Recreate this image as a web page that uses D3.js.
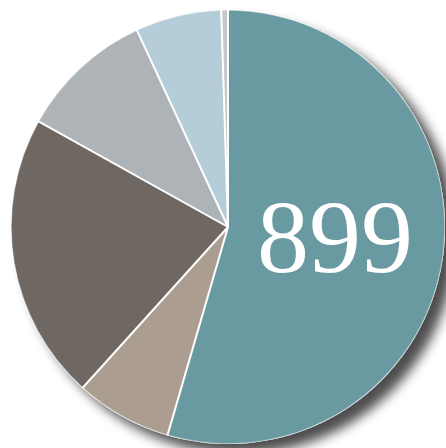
<!DOCTYPE html>
<html>
<head>
<meta charset="utf-8">
<script src="https://cdn.jsdelivr.net/npm/d3@7"></script>
<style>
  html, body { margin: 0; padding: 0; background: #fff; }
  svg { display: block; }
</style>
</head>
<body>
<div id="chart"></div>
<script>
// slice data, clockwise from 12 o'clock
var CATEGORIES = ['A', 'B', 'C', 'D', 'E', 'F'];
var VALUES = [54.5, 7.2, 21.4, 10.0, 6.4, 0.5];
var COLORS = ['#699aa2', '#ab9e90', '#6e6762', '#adb3b6', '#b4cdd9', '#c3c8ca'];
var LABEL = '899';

var WIDTH = 446, HEIGHT = 448;
var CX = 228, CY = 227, R = 217;

var svg = d3.select('#chart').append('svg')
  .attr('width', WIDTH)
  .attr('height', HEIGHT);

// drop shadow behind the pie
var defs = svg.append('defs');
var filter = defs.append('filter')
  .attr('id', 'shadow')
  .attr('x', '-20%').attr('y', '-20%')
  .attr('width', '140%').attr('height', '140%');
filter.append('feGaussianBlur')
  .attr('in', 'SourceAlpha')
  .attr('stdDeviation', 6);
filter.append('feOffset').attr('dx', 11).attr('dy', 10).attr('result', 'off');
filter.append('feComponentTransfer').append('feFuncA')
  .attr('type', 'linear').attr('slope', 0.7);
var merge = filter.append('feMerge');
merge.append('feMergeNode');
merge.append('feMergeNode').attr('in', 'SourceGraphic');

var g = svg.append('g').attr('transform', 'translate(' + CX + ',' + CY + ')');

g.append('circle')
  .attr('r', R)
  .attr('fill', '#eef0f0')
  .attr('filter', 'url(#shadow)');

var pie = d3.pie().sort(null).value(function(d) { return d; });
var arcs = pie(VALUES);
var arc = d3.arc().innerRadius(0).outerRadius(R - 0.8);
var color = d3.scaleOrdinal().domain(CATEGORIES).range(COLORS);

g.selectAll('path.slice')
  .data(arcs)
  .enter().append('path')
  .classed('slice', true)
  .attr('d', arc)
  .attr('fill', function(d, i) { return color(CATEGORIES[i]); })
  .attr('stroke', function(d, i) { return color(CATEGORIES[i]); })
  .attr('stroke-width', 0.5);

// white separators between slices
g.selectAll('line.sep')
  .data(arcs)
  .enter().append('line')
  .classed('sep', true)
  .attr('x1', 0).attr('y1', 0)
  .attr('x2', function(d) { return R * Math.sin(d.startAngle); })
  .attr('y2', function(d) { return -R * Math.cos(d.startAngle); })
  .attr('stroke', '#fff')
  .attr('stroke-width', 2);

g.append('text')
  .attr('x', 107)
  .attr('y', 45)
  .attr('text-anchor', 'middle')
  .attr('fill', '#fff')
  .attr('font-family', 'Liberation Serif')
  .attr('font-size', 104)
  .text(LABEL);
</script>
</body>
</html>
